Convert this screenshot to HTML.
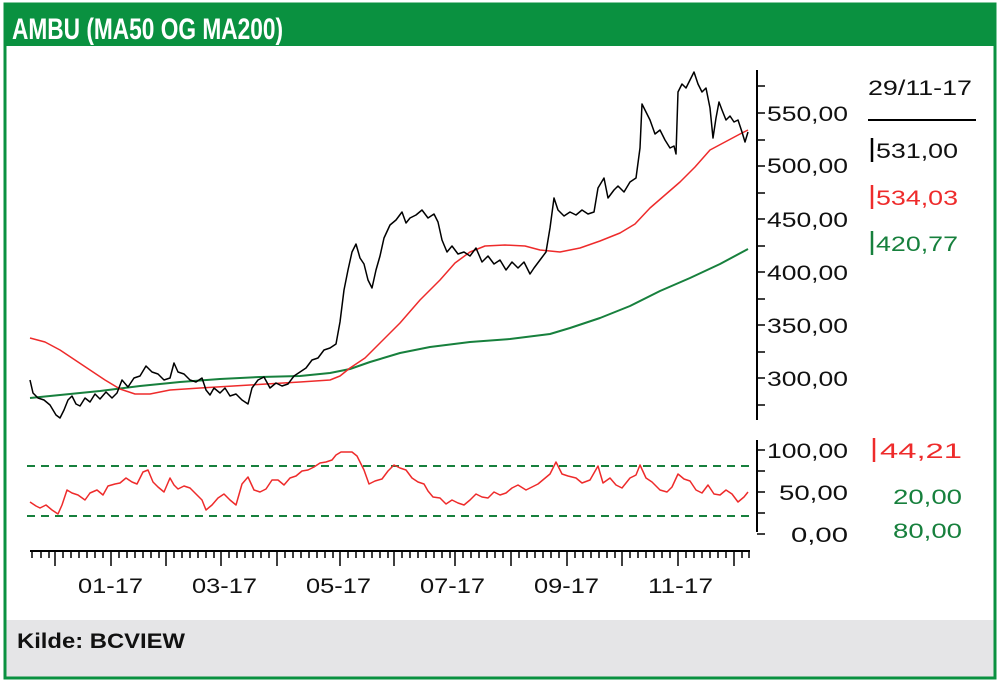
<!DOCTYPE html>
<html><head><meta charset="utf-8"><style>
body{margin:0;width:1000px;height:682px;background:#fff;overflow:hidden;font-family:"Liberation Sans",sans-serif}
</style></head><body>
<svg width="1000" height="682" xmlns="http://www.w3.org/2000/svg" font-family="Liberation Sans, sans-serif">
<rect x="0" y="0" width="1000" height="682" fill="#fff"/>
<rect x="4" y="4" width="992" height="42" fill="#0a9140"/>
<text x="12" y="39" font-size="30" font-weight="bold" fill="#fff" textLength="271" lengthAdjust="spacingAndGlyphs">AMBU (MA50 OG MA200)</text>
<rect x="5" y="620" width="990" height="57" fill="#e5e5e7"/>
<rect x="5" y="4" width="990" height="674" fill="none" stroke="#0a9140" stroke-width="3"/>
<text x="17" y="648" font-size="21" font-weight="bold" fill="#111" textLength="168" lengthAdjust="spacingAndGlyphs">Kilde: BCVIEW</text>
<g stroke="#000" stroke-width="2" fill="none">
<line x1="757" y1="70" x2="757" y2="420"/>
<line x1="757" y1="440" x2="757" y2="532"/>
<line x1="30" y1="551" x2="750" y2="551"/>
</g>
<g stroke="#000" stroke-width="1.5">
<line x1="757" y1="86" x2="765" y2="86"/><line x1="757" y1="113" x2="765" y2="113"/><line x1="757" y1="140" x2="765" y2="140"/><line x1="757" y1="166" x2="765" y2="166"/><line x1="757" y1="193" x2="765" y2="193"/><line x1="757" y1="219" x2="765" y2="219"/><line x1="757" y1="246" x2="765" y2="246"/><line x1="757" y1="272" x2="765" y2="272"/><line x1="757" y1="299" x2="765" y2="299"/><line x1="757" y1="325" x2="765" y2="325"/><line x1="757" y1="352" x2="765" y2="352"/><line x1="757" y1="378" x2="765" y2="378"/><line x1="757" y1="405" x2="765" y2="405"/>
<line x1="757" y1="450" x2="765" y2="450"/><line x1="757" y1="471" x2="765" y2="471"/><line x1="757" y1="492" x2="765" y2="492"/><line x1="757" y1="513" x2="765" y2="513"/><line x1="757" y1="534" x2="765" y2="534"/>
</g>
<g font-size="21" fill="#111">
<text x="767" y="121" textLength="81" lengthAdjust="spacingAndGlyphs">550,00</text><text x="767" y="173" textLength="81" lengthAdjust="spacingAndGlyphs">500,00</text><text x="767" y="227" textLength="81" lengthAdjust="spacingAndGlyphs">450,00</text><text x="767" y="280" textLength="81" lengthAdjust="spacingAndGlyphs">400,00</text><text x="767" y="333" textLength="81" lengthAdjust="spacingAndGlyphs">350,00</text><text x="767" y="386" textLength="81" lengthAdjust="spacingAndGlyphs">300,00</text>
<text x="767" y="458" textLength="81" lengthAdjust="spacingAndGlyphs">100,00</text><text x="779" y="500" textLength="69" lengthAdjust="spacingAndGlyphs">50,00</text><text x="791" y="542" textLength="57" lengthAdjust="spacingAndGlyphs">0,00</text>
<text x="78" y="593" textLength="65" lengthAdjust="spacingAndGlyphs">01-17</text><text x="192" y="593" textLength="65" lengthAdjust="spacingAndGlyphs">03-17</text><text x="306" y="593" textLength="65" lengthAdjust="spacingAndGlyphs">05-17</text><text x="420" y="593" textLength="65" lengthAdjust="spacingAndGlyphs">07-17</text><text x="534" y="593" textLength="65" lengthAdjust="spacingAndGlyphs">09-17</text><text x="648" y="593" textLength="65" lengthAdjust="spacingAndGlyphs">11-17</text>
<text x="868" y="95" textLength="104" lengthAdjust="spacingAndGlyphs">29/11-17</text>
<text x="876" y="158" textLength="82" lengthAdjust="spacingAndGlyphs">531,00</text>
<text x="876" y="205" fill="#ee2b2b" textLength="82" lengthAdjust="spacingAndGlyphs">534,03</text>
<text x="876" y="251" fill="#17803d" textLength="82" lengthAdjust="spacingAndGlyphs">420,77</text>
<text x="880" y="458" fill="#ee2b2b" textLength="82" lengthAdjust="spacingAndGlyphs">44,21</text>
<text x="893" y="504" fill="#17803d" textLength="69" lengthAdjust="spacingAndGlyphs">20,00</text>
<text x="893" y="538" fill="#17803d" textLength="69" lengthAdjust="spacingAndGlyphs">80,00</text>
</g>
<line x1="868" y1="120" x2="976" y2="120" stroke="#000" stroke-width="2"/>
<line x1="872" y1="138" x2="872" y2="162" stroke="#000" stroke-width="2.5"/>
<line x1="872" y1="185" x2="872" y2="209" stroke="#ee2b2b" stroke-width="2.5"/>
<line x1="872" y1="231" x2="872" y2="255" stroke="#17803d" stroke-width="2.5"/>
<line x1="874" y1="438" x2="874" y2="462" stroke="#ee2b2b" stroke-width="2.5"/>
<g stroke="#000" stroke-width="1.5">
<line x1="32" y1="551" x2="32" y2="558"/><line x1="41" y1="551" x2="41" y2="558"/><line x1="49" y1="551" x2="49" y2="558"/><line x1="55" y1="551" x2="55" y2="566"/><line x1="63" y1="551" x2="63" y2="558"/><line x1="71" y1="551" x2="71" y2="558"/><line x1="79" y1="551" x2="79" y2="558"/><line x1="87" y1="551" x2="87" y2="558"/><line x1="95" y1="551" x2="95" y2="558"/><line x1="103" y1="551" x2="103" y2="558"/><line x1="111" y1="551" x2="111" y2="566"/><line x1="119" y1="551" x2="119" y2="558"/><line x1="127" y1="551" x2="127" y2="558"/><line x1="135" y1="551" x2="135" y2="558"/><line x1="143" y1="551" x2="143" y2="558"/><line x1="151" y1="551" x2="151" y2="558"/><line x1="159" y1="551" x2="159" y2="558"/><line x1="166" y1="551" x2="166" y2="566"/><line x1="174" y1="551" x2="174" y2="558"/><line x1="182" y1="551" x2="182" y2="558"/><line x1="190" y1="551" x2="190" y2="558"/><line x1="198" y1="551" x2="198" y2="558"/><line x1="206" y1="551" x2="206" y2="558"/><line x1="214" y1="551" x2="214" y2="558"/><line x1="221" y1="551" x2="221" y2="566"/><line x1="229" y1="551" x2="229" y2="558"/><line x1="237" y1="551" x2="237" y2="558"/><line x1="245" y1="551" x2="245" y2="558"/><line x1="253" y1="551" x2="253" y2="558"/><line x1="261" y1="551" x2="261" y2="558"/><line x1="269" y1="551" x2="269" y2="558"/><line x1="277" y1="551" x2="277" y2="566"/><line x1="285" y1="551" x2="285" y2="558"/><line x1="293" y1="551" x2="293" y2="558"/><line x1="301" y1="551" x2="301" y2="558"/><line x1="309" y1="551" x2="309" y2="558"/><line x1="317" y1="551" x2="317" y2="558"/><line x1="325" y1="551" x2="325" y2="558"/><line x1="333" y1="551" x2="333" y2="558"/><line x1="340" y1="551" x2="340" y2="566"/><line x1="348" y1="551" x2="348" y2="558"/><line x1="356" y1="551" x2="356" y2="558"/><line x1="364" y1="551" x2="364" y2="558"/><line x1="372" y1="551" x2="372" y2="558"/><line x1="380" y1="551" x2="380" y2="558"/><line x1="388" y1="551" x2="388" y2="558"/><line x1="394" y1="551" x2="394" y2="566"/><line x1="402" y1="551" x2="402" y2="558"/><line x1="410" y1="551" x2="410" y2="558"/><line x1="418" y1="551" x2="418" y2="558"/><line x1="426" y1="551" x2="426" y2="558"/><line x1="434" y1="551" x2="434" y2="558"/><line x1="442" y1="551" x2="442" y2="558"/><line x1="450" y1="551" x2="450" y2="558"/><line x1="455" y1="551" x2="455" y2="566"/><line x1="463" y1="551" x2="463" y2="558"/><line x1="471" y1="551" x2="471" y2="558"/><line x1="479" y1="551" x2="479" y2="558"/><line x1="487" y1="551" x2="487" y2="558"/><line x1="495" y1="551" x2="495" y2="558"/><line x1="503" y1="551" x2="503" y2="558"/><line x1="511" y1="551" x2="511" y2="566"/><line x1="519" y1="551" x2="519" y2="558"/><line x1="527" y1="551" x2="527" y2="558"/><line x1="535" y1="551" x2="535" y2="558"/><line x1="543" y1="551" x2="543" y2="558"/><line x1="551" y1="551" x2="551" y2="558"/><line x1="559" y1="551" x2="559" y2="558"/><line x1="567" y1="551" x2="567" y2="566"/><line x1="575" y1="551" x2="575" y2="558"/><line x1="583" y1="551" x2="583" y2="558"/><line x1="591" y1="551" x2="591" y2="558"/><line x1="599" y1="551" x2="599" y2="558"/><line x1="607" y1="551" x2="607" y2="558"/><line x1="615" y1="551" x2="615" y2="558"/><line x1="622" y1="551" x2="622" y2="566"/><line x1="630" y1="551" x2="630" y2="558"/><line x1="638" y1="551" x2="638" y2="558"/><line x1="646" y1="551" x2="646" y2="558"/><line x1="654" y1="551" x2="654" y2="558"/><line x1="662" y1="551" x2="662" y2="558"/><line x1="670" y1="551" x2="670" y2="558"/><line x1="678" y1="551" x2="678" y2="566"/><line x1="686" y1="551" x2="686" y2="558"/><line x1="694" y1="551" x2="694" y2="558"/><line x1="702" y1="551" x2="702" y2="558"/><line x1="710" y1="551" x2="710" y2="558"/><line x1="718" y1="551" x2="718" y2="558"/><line x1="726" y1="551" x2="726" y2="558"/><line x1="734" y1="551" x2="734" y2="566"/><line x1="742" y1="551" x2="742" y2="558"/><line x1="749" y1="551" x2="749" y2="558"/>
</g>
<g fill="none" stroke-linejoin="round">
<line x1="27" y1="466" x2="750" y2="466" stroke="#17803d" stroke-width="2" stroke-dasharray="8,6"/>
<line x1="27" y1="516" x2="750" y2="516" stroke="#17803d" stroke-width="2" stroke-dasharray="8,6"/>
<polyline stroke="#ee2b2b" stroke-width="1.5" points="30,502 36,506 40,508 46,505 52,510 58,514 62,505 67,490 72,493 78,495 85,500 90,493 97,490 103,495 108,486 115,484 120,483 126,478 132,482 137,484 143,472 148,470 153,482 158,487 164,492 170,478 174,485 178,489 184,486 190,488 196,494 202,500 206,510 212,505 218,498 224,494 230,500 236,505 242,484 248,477 254,490 260,492 266,489 272,480 278,480 284,485 290,478 296,476 302,471 308,470 314,467 320,463 326,462 332,460 336,455 341,452 352,452 357,456 364,470 369,484 375,481 382,479 388,471 394,465 400,468 406,470 412,478 418,482 424,484 428,491 433,497 440,498 446,504 452,500 458,503 464,505 470,500 476,494 482,497 488,498 494,492 500,495 506,493 512,488 518,485 526,490 532,487 538,484 544,479 550,474 556,462 562,474 568,476 576,478 582,483 590,480 598,466 603,483 610,478 616,485 622,488 630,478 636,475 640,465 646,478 652,482 660,490 667,492 672,487 678,474 684,479 690,481 696,490 702,493 708,485 714,494 720,495 726,490 732,494 738,502 744,497 748,492"/>
<polyline stroke="#17803d" stroke-width="2" points="30,398 60,395 100,391 140,386 180,382 220,379 260,377 300,376 330,373 350,369 370,362 400,353 430,347 470,342 510,339 550,334 570,328 600,318 630,306 660,291 690,278 720,264 748,249"/>
<polyline stroke="#ee2b2b" stroke-width="1.5" points="30,338 45,342 60,350 75,360 90,370 105,380 120,389 135,394 150,394 170,390 200,388 250,385 300,382 330,380 340,376 350,368 365,358 380,343 400,323 420,300 440,280 455,263 470,252 485,246 505,245 525,246 540,250 560,252 580,248 600,241 620,233 635,224 650,208 665,195 680,182 695,167 710,150 725,142 740,134 748,130"/>
<polyline stroke="#000" stroke-width="1.5" points="30,380 33,393 38,398 44,400 50,405 56,415 60,418 64,410 68,400 72,396 76,404 80,406 85,398 90,402 95,394 100,399 106,392 112,398 117,393 122,380 128,387 134,378 140,376 146,366 152,372 158,374 164,380 170,378 174,363 178,372 184,374 190,380 196,382 202,378 206,390 210,395 214,388 220,393 225,388 230,396 236,394 242,400 248,404 252,388 258,380 264,377 270,388 276,383 282,386 288,384 294,376 300,372 306,368 312,360 318,358 324,350 330,348 336,344 340,322 344,290 348,270 352,252 356,244 360,258 364,264 368,280 372,288 376,270 380,256 384,238 390,225 396,220 402,212 406,223 410,218 416,215 422,210 428,218 434,214 438,222 442,240 447,252 452,246 458,254 464,252 470,256 476,248 482,262 488,256 494,264 500,260 506,270 512,262 518,268 524,262 530,274 534,268 540,260 546,252 550,228 554,198 558,210 564,216 570,212 576,215 582,210 588,214 594,212 598,188 604,178 608,198 614,190 618,186 624,192 630,182 636,178 640,148 642,104 646,112 650,120 655,134 660,130 665,140 670,148 674,146 676,154 678,92 682,84 686,88 690,80 694,72 698,84 702,92 706,88 710,108 713,138 716,118 719,102 722,110 726,120 730,116 734,122 738,120 742,132 745,142 748,132"/>
</g>
</svg>
</body></html>
